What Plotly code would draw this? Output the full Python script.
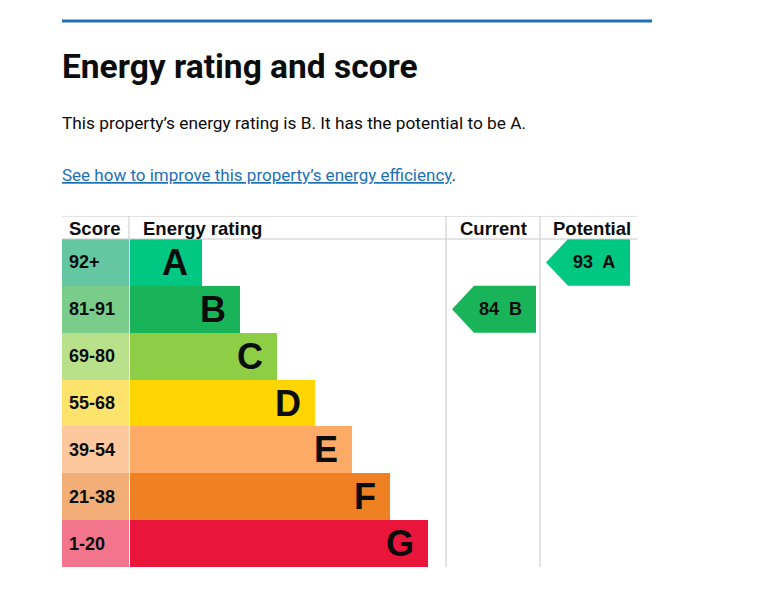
import plotly.graph_objects as go

# ---------------- data ----------------
bands = ["A", "B", "C", "D", "E", "F", "G"]
score_ranges = ["92+", "81-91", "69-80", "55-68", "39-54", "21-38", "1-20"]
band_lengths = [72, 110, 147, 185, 222, 260, 298]
current_score = 84
current_band = "B"
potential_score = 93
potential_band = "A"
headers = ["Score", "Energy rating", "Current", "Potential"]

# ---------------- styles ----------------
band_colors = ["#00c781", "#19b459", "#8dce46", "#ffd500", "#fcaa65", "#ef8023", "#e9153b"]
score_colors = ["#64c7a2", "#79cc8a", "#b9e08a", "#fde26c", "#fdc89d", "#f3ad77", "#f3758c"]
TXT = "#0b0c0c"
LINK = "#1d70b8"
GRID = "#c8c8c8"
TABLE_FONT = "Liberation Sans, Arial, sans-serif"
PAGE_FONT = "Roboto, Liberation Sans, sans-serif"

OFF = 8                                  # page body margin
PAD = 2                                  # annotation inner padding
W, H = 750, 580
L, R, T, B = 62 - OFF, 637 - OFF, 216 - OFF, 567 - OFF   # table pixel box (figure coords)
PW, PH = R - L, B - T
HEADER_H = 23
ROW_H = (PH - HEADER_H) / len(bands)
SCORE_W = 67
BAR_X0 = 68
CUR_X0, POT_X0 = 446 - 62, 540 - 62
ARROW_W, ARROW_NOTCH = 84, 22


def row_center(i):
    return HEADER_H + ROW_H * (i + 0.5)


def px(xp, yp):
    """page pixel -> paper coords"""
    return (xp - OFF - L) / PW, (B - (yp - OFF)) / PH


fig = go.Figure()

# score cells
fig.add_trace(go.Bar(
    y=[row_center(i) for i in range(len(bands))], x=[SCORE_W] * len(bands), base=0,
    orientation="h", width=ROW_H, marker=dict(color=score_colors, line=dict(width=0)),
    hoverinfo="skip"))
# rating bars
fig.add_trace(go.Bar(
    y=[row_center(i) for i in range(len(bands))], x=band_lengths, base=BAR_X0,
    orientation="h", width=ROW_H, marker=dict(color=band_colors, line=dict(width=0)),
    hoverinfo="skip"))


def arrow(col_x0, score, band):
    i = bands.index(band)
    top, bot = HEADER_H + ROW_H * i, HEADER_H + ROW_H * (i + 1)
    tip = col_x0 + 6
    xs = [tip, tip + ARROW_NOTCH, tip + ARROW_W, tip + ARROW_W, tip + ARROW_NOTCH, tip]
    ys = [(top + bot) / 2, top, top, bot, bot, (top + bot) / 2]
    fig.add_trace(go.Scatter(x=xs, y=ys, fill="toself", fillcolor=band_colors[i],
                             mode="lines", line=dict(width=0, color=band_colors[i]),
                             hoverinfo="skip"))
    fig.add_annotation(x=tip + 48, y=(top + bot) / 2, xref="x", yref="y",
                       text=f"<b>{score}  {band}</b>", showarrow=False,
                       font=dict(family=TABLE_FONT, size=18, color=TXT))


arrow(CUR_X0, current_score, current_band)
arrow(POT_X0, potential_score, potential_band)

# band letters and score labels
for i, b in enumerate(bands):
    fig.add_annotation(x=BAR_X0 + band_lengths[i] - 14 + PAD, y=row_center(i), xref="x", yref="y",
                       text=f"<b>{b}</b>", showarrow=False, xanchor="right", yanchor="middle",
                       font=dict(family=TABLE_FONT, size=36, color=TXT))
    fig.add_annotation(x=7 - PAD, y=row_center(i), xref="x", yref="y",
                       text=f"<b>{score_ranges[i]}</b>", showarrow=False, xanchor="left",
                       yanchor="middle", font=dict(family=TABLE_FONT, size=18, color=TXT))

# headers
for hx, h in zip([7, BAR_X0 + 13, CUR_X0 + 14, POT_X0 + 13], headers):
    fig.add_annotation(x=hx - PAD, y=HEADER_H / 2 + 1, xref="x", yref="y", text=f"<b>{h}</b>",
                       showarrow=False, xanchor="left", yanchor="middle",
                       font=dict(family=TABLE_FONT, size=18.5, color=TXT))

# table lines
shapes = [
    dict(type="line", x0=0, x1=PW, y0=0, y1=0),
    dict(type="line", x0=0, x1=PW, y0=HEADER_H, y1=HEADER_H),
    dict(type="line", x0=SCORE_W, x1=SCORE_W, y0=0, y1=HEADER_H),
    dict(type="line", x0=CUR_X0, x1=CUR_X0, y0=0, y1=PH),
    dict(type="line", x0=POT_X0, x1=POT_X0, y0=0, y1=PH),
]
for s in shapes:
    s.update(xref="x", yref="y", line=dict(color=GRID, width=1), layer="above")
    fig.add_shape(**s)

# page header rule
x0p, y0p = px(62, 21)
x1p, _ = px(652, 21)
fig.add_shape(type="line", xref="paper", yref="paper", x0=x0p, x1=x1p, y0=y0p, y1=y0p,
              line=dict(color=LINK, width=3))

# page texts
for (xp, yp), text, size in [
    (px(62 - PAD, 66), "<b>Energy rating and score</b>", 33.5),
    (px(62 - PAD, 123), "This property’s energy rating is B. It has the potential to be A.", 17.3),
    (px(62 - PAD, 175), f'<span style="color:{LINK};text-decoration:underline">'
                        "See how to improve this property’s energy efficiency</span>.", 17),
]:
    fig.add_annotation(x=xp, y=yp, xref="paper", yref="paper", text=text, showarrow=False,
                       xanchor="left", yanchor="middle",
                       font=dict(family=PAGE_FONT, size=size, color=TXT))

fig.update_layout(
    width=W, height=H, showlegend=False, barmode="overlay", bargap=0,
    margin=dict(l=L, r=W - R, t=T, b=H - B, autoexpand=False),
    paper_bgcolor="white", plot_bgcolor="white",
    xaxis=dict(range=[0, PW], visible=False, fixedrange=True),
    yaxis=dict(range=[PH, 0], visible=False, fixedrange=True),
)

fig.write_html("out.html")
